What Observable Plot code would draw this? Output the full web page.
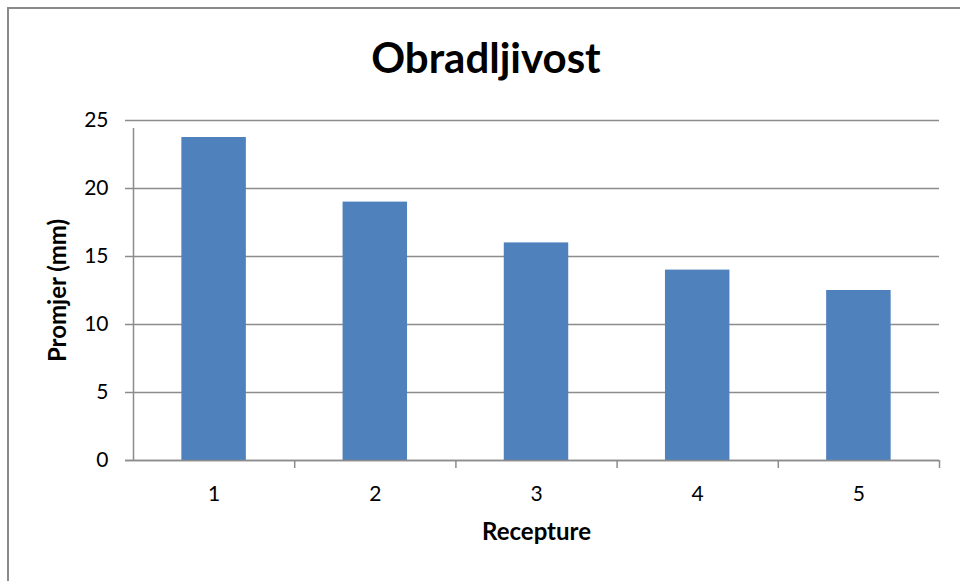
<!DOCTYPE html>
<html>
<head>
<meta charset="utf-8">
<script src="https://cdn.jsdelivr.net/npm/d3@7"></script>
<script src="https://cdn.jsdelivr.net/npm/@observablehq/plot@0.6"></script>
<style>
  html, body { margin: 0; padding: 0; background: #fff; }
  #wrap { position: relative; width: 960px; height: 581px; overflow: hidden; font-family: Lato, "Open Sans", sans-serif; }
  #frame { position: absolute; left: 7px; top: 7px; width: 980px; height: 600px; border-top: 2px solid #8a8a8a; border-left: 2px solid #8a8a8a; box-sizing: border-box; }
  #chart { position: absolute; left: 0; top: 0; }
</style>
</head>
<body>
<div id="wrap"><div id="frame"></div><div id="chart"></div></div>
<script>
const title = "Obradljivost";
const yTitle = "Promjer (mm)";
const xTitle = "Recepture";
const categories = [1, 2, 3, 4, 5];
const values = [23.75, 19, 16, 14, 12.5];
const yTicks = [0, 5, 10, 15, 20, 25];

const data = categories.map((c, i) => ({cat: c, value: values[i]}));
const boundaries = [categories[0] - 0.5, ...categories.map(c => c + 0.5)];
const gridColor = "#8c8c8c";
const fontFamily = "Lato, 'Open Sans', sans-serif";

const chart = Plot.plot({
  width: 960,
  height: 581,
  marginLeft: 133,
  marginRight: 21,
  marginTop: 120,
  marginBottom: 121,
  style: {fontFamily, color: "#000", background: "transparent"},
  x: {type: "linear", domain: [boundaries[0], boundaries[boundaries.length - 1]]},
  y: {domain: [0, 25]},
  marks: [
    // horizontal gridlines (extending left to form the ticks)
    Plot.ruleY(yTicks, {stroke: gridColor, strokeWidth: 1.5, insetLeft: -8}),
    // bars
    Plot.rectY(data, {x1: d => d.cat - 0.2, x2: d => d.cat + 0.2, y1: 0, y2: "value", fill: "#4F81BD"}),
    // y axis line
    Plot.ruleX([boundaries[0]], {y1: 0, y2: 25, stroke: gridColor, strokeWidth: 1.5, insetBottom: -8}),
    // x axis line
    Plot.ruleY([0], {stroke: gridColor, strokeWidth: 1.5, insetLeft: -8}),
    // category boundary ticks
    Plot.ruleX(boundaries.slice(1), {y1: 0, y2: 0, stroke: gridColor, strokeWidth: 1.5, insetTop: 0, insetBottom: -8}),
    // y tick labels
    Plot.axisY(yTicks, {tickSize: 0, tickPadding: 25, fontSize: 21, label: null, tickFormat: d => String(d)}),
    // x tick labels
    Plot.axisX(categories, {tickSize: 0, tickPadding: 26, fontSize: 21, label: null, tickFormat: d => String(d)}),
    // title
    Plot.text([title], {frameAnchor: "top", dx: 485.5 - 536, dy: -61, fontSize: 42, fontWeight: "bold", textAnchor: "middle", lineAnchor: "middle", fill: "#000"}),
    // y title
    Plot.text([yTitle], {frameAnchor: "left", dx: -75, rotate: -90, fontSize: 24, fontWeight: "bold", textAnchor: "middle", lineAnchor: "middle", fill: "#000"}),
    // x title
    Plot.text([xTitle], {frameAnchor: "bottom", dy: 72, fontSize: 24, fontWeight: "bold", textAnchor: "middle", lineAnchor: "middle", fill: "#000"})
  ]
});
document.getElementById("chart").appendChild(chart);
</script>
</body>
</html>
